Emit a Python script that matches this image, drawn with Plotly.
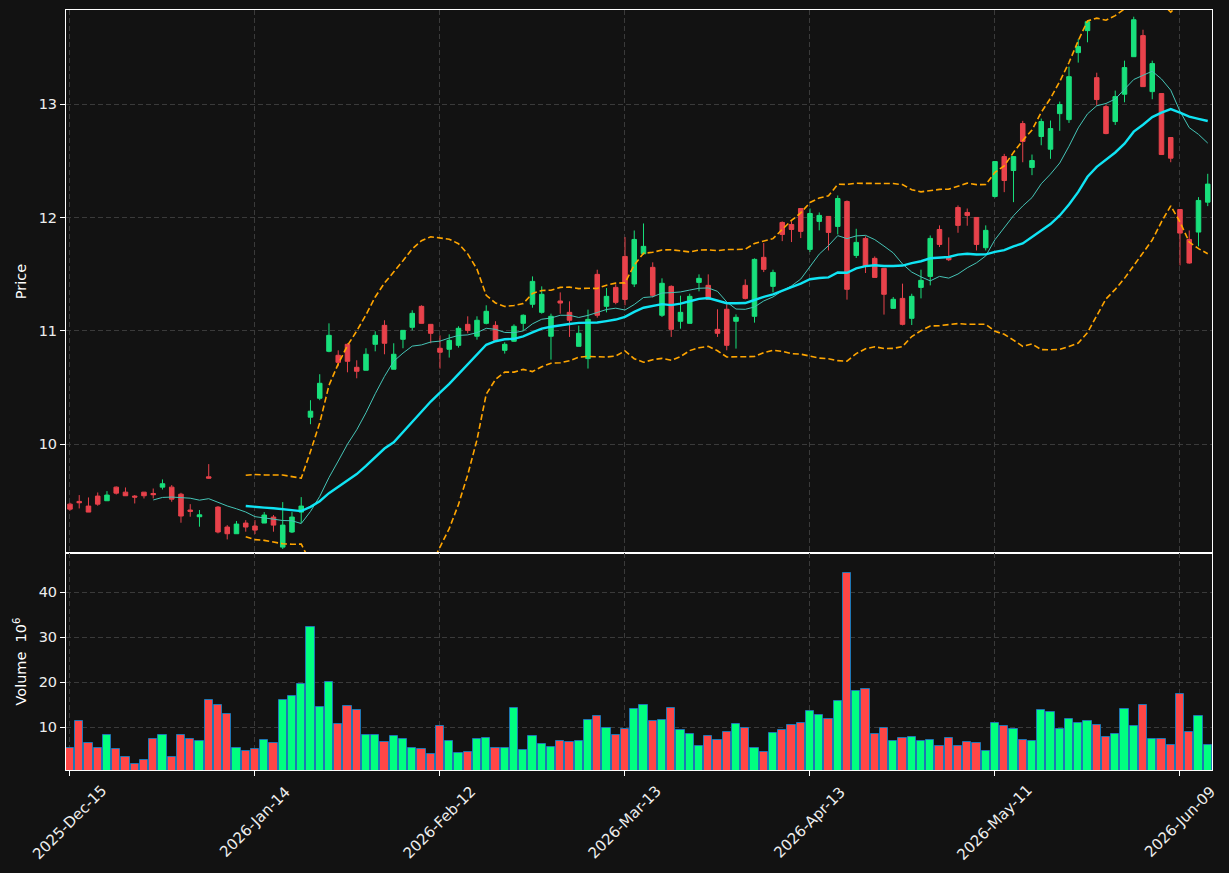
import pandas as pd
import numpy as np
import plotly.graph_objects as go

# ---------------- data ----------------
holidays = ["2025-12-25", "2026-01-01", "2026-01-19", "2026-02-16", "2026-04-03", "2026-05-25"]
dates = pd.bdate_range("2025-12-15", "2026-06-12", freq="C", holidays=holidays)

opens = [9.471, 9.495, 9.454, 9.542, 9.501, 9.621, 9.577, 9.542, 9.577, 9.565,
         9.621, 9.621, 9.559, 9.419, 9.360, 9.712, 9.445, 9.269, 9.210, 9.304,
         9.278, 9.304, 9.357, 9.092, 9.225, 9.401, 10.238, 10.405, 10.819, 10.784,
         10.881, 10.678, 10.652, 10.881, 11.048, 10.661, 10.925, 11.031, 11.216, 11.057,
         10.846, 10.837, 10.872, 11.057, 10.952, 11.066, 11.048, 10.828, 10.908, 11.066,
         11.234, 11.163, 10.952, 11.263, 11.163, 10.863, 10.755, 11.498, 11.216, 11.383,
         11.656, 11.413, 11.680, 11.560, 11.137, 11.392, 11.084, 11.066, 11.427, 11.401,
         11.013, 11.190, 11.084, 11.401, 11.128, 11.648, 11.392, 11.956, 11.938, 12.079,
         11.718, 11.965, 12.009, 11.921, 12.141, 11.665, 11.815, 11.639, 11.551, 11.198,
         11.286, 11.110, 11.383, 11.480, 11.894, 11.645, 12.088, 12.044, 12.000, 11.733,
         12.185, 12.537, 12.414, 12.828, 12.441, 12.714, 12.602, 12.916, 12.863, 13.454,
         13.648, 13.233, 12.978, 12.846, 13.087, 13.418, 13.604, 13.110, 13.093, 12.705,
         12.070, 11.806, 11.871, 12.135]
highs = [9.483, 9.551, 9.530, 9.574, 9.586, 9.627, 9.618, 9.551, 9.577, 9.609,
         9.689, 9.639, 9.571, 9.471, 9.419, 9.824, 9.454, 9.286, 9.322, 9.330,
         9.330, 9.401, 9.375, 9.489, 9.401, 9.533, 10.388, 10.617, 11.066, 10.828,
         10.890, 10.740, 10.846, 10.996, 11.093, 10.890, 11.004, 11.181, 11.225, 11.057,
         10.960, 10.969, 11.040, 11.128, 11.128, 11.225, 11.084, 10.899, 11.057, 11.145,
         11.480, 11.392, 11.151, 11.339, 11.260, 11.046, 11.187, 11.539, 11.377, 11.410,
         11.827, 11.885, 11.947, 11.604, 11.463, 11.401, 11.310, 11.327, 11.498, 11.498,
         11.190, 11.234, 11.145, 11.454, 11.639, 11.774, 11.539, 11.965, 11.965, 12.079,
         12.079, 12.044, 12.009, 12.194, 12.150, 11.900, 11.833, 11.656, 11.551, 11.298,
         11.416, 11.327, 11.539, 11.841, 11.930, 11.824, 12.106, 12.079, 12.000, 11.930,
         12.493, 12.561, 12.537, 12.852, 12.555, 12.872, 12.855, 13.022, 13.330, 13.574,
         13.736, 13.277, 12.996, 13.119, 13.383, 13.771, 13.656, 13.383, 13.093, 12.705,
         12.070, 11.885, 12.179, 12.385]
lows = [9.413, 9.433, 9.401, 9.457, 9.501, 9.556, 9.545, 9.477, 9.521, 9.521,
        9.600, 9.492, 9.307, 9.360, 9.272, 9.695, 9.213, 9.160, 9.210, 9.228,
        9.207, 9.304, 9.228, 9.075, 9.216, 9.304, 10.176, 10.388, 10.811, 10.687,
        10.634, 10.581, 10.652, 10.819, 10.793, 10.661, 10.846, 11.004, 11.066, 10.890,
        10.667, 10.764, 10.852, 10.978, 10.922, 11.057, 10.910, 10.799, 10.902, 11.004,
        11.204, 11.151, 10.746, 11.151, 10.946, 10.863, 10.667, 11.116, 11.163, 11.234,
        11.225, 11.386, 11.671, 11.295, 11.122, 10.946, 11.019, 11.066, 11.348, 11.277,
        10.946, 10.828, 10.843, 11.277, 11.072, 11.518, 11.339, 11.791, 11.783, 11.818,
        11.695, 11.886, 11.709, 11.850, 11.275, 11.642, 11.510, 11.471, 11.143, 11.198,
        11.048, 11.051, 11.286, 11.401, 11.739, 11.615, 11.865, 11.927, 11.709, 11.709,
        12.176, 12.223, 12.135, 12.487, 12.373, 12.637, 12.517, 12.764, 12.834, 13.366,
        13.545, 12.987, 12.734, 12.816, 13.016, 13.418, 13.154, 13.043, 12.555, 12.487,
        11.577, 11.592, 11.745, 12.100]
closes = [9.427, 9.483, 9.401, 9.471, 9.551, 9.568, 9.545, 9.533, 9.545, 9.554,
          9.651, 9.515, 9.366, 9.407, 9.377, 9.700, 9.225, 9.210, 9.295, 9.269,
          9.242, 9.375, 9.286, 9.286, 9.357, 9.454, 10.291, 10.537, 10.960, 10.722,
          10.731, 10.643, 10.793, 10.960, 10.890, 10.793, 11.004, 11.154, 11.066, 10.978,
          10.811, 10.916, 11.022, 11.004, 11.093, 11.172, 10.916, 10.881, 11.040, 11.137,
          11.436, 11.322, 11.128, 11.245, 11.093, 10.978, 11.101, 11.137, 11.304, 11.251,
          11.277, 11.806, 11.745, 11.313, 11.419, 11.013, 11.163, 11.304, 11.463, 11.277,
          10.978, 10.872, 11.119, 11.286, 11.630, 11.542, 11.515, 11.850, 11.894, 11.877,
          12.035, 12.018, 11.868, 12.167, 11.366, 11.780, 11.568, 11.471, 11.322, 11.278,
          11.057, 11.304, 11.445, 11.815, 11.762, 11.627, 11.930, 12.018, 11.762, 11.886,
          12.493, 12.326, 12.537, 12.670, 12.502, 12.846, 12.784, 12.996, 13.242, 13.507,
          13.727, 13.040, 12.740, 13.066, 13.322, 13.744, 13.154, 13.357, 12.555, 12.523,
          11.862, 11.598, 12.150, 12.294]
volumes = [5.26, 11.26, 6.44, 5.26, 8.15, 5.04, 3.26, 1.7, 2.6, 7.26,
           8.15, 3.26, 8.15, 7.26, 6.8, 15.9, 14.8, 12.8, 5.26, 4.6,
           5.04, 7.04, 6.44, 15.9, 16.8, 19.5, 32.2, 14.4, 20.1, 10.6,
           14.6, 13.7, 8.15, 8.15, 6.6, 7.9, 7.26, 5.26, 5.04, 3.93,
           10.15, 6.8, 4.15, 4.37, 7.26, 7.5, 5.26, 5.26, 14.15, 4.8,
           7.9, 6.15, 5.5, 6.8, 6.6, 6.8, 11.5, 12.4, 9.7, 8.15,
           9.5, 13.9, 14.8, 11.26, 11.5, 14.15, 9.26, 8.4, 5.7, 7.9,
           7.04, 8.8, 10.6, 9.7, 5.26, 4.37, 8.6, 9.26, 10.37, 10.8,
           13.5, 12.6, 11.7, 15.7, 44.15, 17.9, 18.4, 8.4, 9.7, 6.8,
           7.5, 7.7, 6.8, 7.04, 5.7, 7.5, 5.7, 6.6, 6.4, 4.6,
           10.8, 10.15, 9.5, 7.04, 6.8, 13.7, 13.26, 9.5, 11.7, 10.8,
           11.26, 10.37, 7.7, 8.4, 13.9, 10.15, 14.8, 7.26, 7.26, 5.9,
           17.26, 8.8, 12.4, 5.9]

price_ticks = [10, 11, 12, 13]
volume_ticks = [10, 20, 30, 40]
date_tick_idx = [0, 20, 40, 60, 80, 100, 120]

# ---------------- derived ----------------
n = len(closes)
x = list(range(n))
close_s = pd.Series(closes)
ma10 = close_s.rolling(10).mean()
ma20 = close_s.rolling(20).mean()
sd20 = close_s.rolling(20).std()
bb_up = ma20 + 2 * sd20
bb_lo = ma20 - 2 * sd20
tick_text = [dates[i].strftime("%Y-%b-%d") for i in date_tick_idx]

UP_C = "#18e07c"
DN_C = "#e8424b"
VOL_UP = "#00ff80"
VOL_DN = "#ff4646"
vol_colors = [VOL_UP if c >= o else VOL_DN for o, c in zip(opens, closes)]

BG = "#121212"
GRID = "#3a3a3a"
FONT = "DejaVu Sans"
TICK_FONT = dict(family=FONT, size=14.5, color="#eeeeee")
DATE_FONT = dict(family=FONT, size=15, color="#eeeeee")

fig = go.Figure()

fig.add_trace(go.Scatter(x=x, y=bb_up, mode="lines", xaxis="x", yaxis="y",
                         line=dict(color="#ffa500", width=1.6, dash="6px,3px"), hoverinfo="skip"))
fig.add_trace(go.Scatter(x=x, y=bb_lo, mode="lines", xaxis="x", yaxis="y",
                         line=dict(color="#ffa500", width=1.6, dash="6px,3px"), hoverinfo="skip"))
fig.add_trace(go.Scatter(x=x, y=ma10, mode="lines", xaxis="x", yaxis="y",
                         line=dict(color="#45c4b6", width=1), hoverinfo="skip"))
fig.add_trace(go.Scatter(x=x, y=ma20, mode="lines", xaxis="x", yaxis="y",
                         line=dict(color="#10e4f4", width=2.4), hoverinfo="skip"))

fig.add_trace(go.Candlestick(
    x=x, open=opens, high=highs, low=lows, close=closes, xaxis="x", yaxis="y",
    increasing=dict(line=dict(color=UP_C, width=1), fillcolor=UP_C),
    decreasing=dict(line=dict(color=DN_C, width=1), fillcolor=DN_C),
    whiskerwidth=0,
))

fig.add_trace(go.Bar(x=x, y=volumes, xaxis="x2", yaxis="y2", width=0.9,
                     marker=dict(color=vol_colors, line=dict(color="#1f77b4", width=1))))

axis_common = dict(
    showline=True, linecolor="white", linewidth=1, mirror=True,
    showgrid=True, gridcolor=GRID, gridwidth=1, griddash="5px,3px",
    zeroline=False, tickcolor="white", ticklen=5, tickwidth=1,
    tickfont=TICK_FONT, automargin=False,
)

split = 217 / 760

# rotated date labels centred on their ticks (as in the reference)
annotations = [
    dict(x=i, y=0, xref="x2", yref="paper", text=t, showarrow=False,
         textangle=-45, xanchor="center", yanchor="middle", yshift=-52,
         font=DATE_FONT)
    for i, t in zip(date_tick_idx, tick_text)
]

fig.update_layout(
    width=1229, height=873,
    margin=dict(l=66, r=17, t=10, b=103, autoexpand=False),
    paper_bgcolor=BG, plot_bgcolor=BG,
    showlegend=False,
    font=dict(family=FONT, color="white"),
    bargap=0,
    annotations=annotations,
    xaxis=dict(domain=[0, 1], anchor="y", range=[-0.43, 123.46],
               tickmode="array", tickvals=date_tick_idx, showticklabels=False, ticks="",
               rangeslider=dict(visible=False), **axis_common),
    xaxis2=dict(domain=[0, 1], anchor="y2", range=[-0.43, 123.46], matches="x",
                tickmode="array", tickvals=date_tick_idx, ticktext=tick_text,
                showticklabels=False, ticks="outside", **axis_common),
    yaxis=dict(domain=[split, 1], anchor="x", range=[9.04, 13.83],
               tickmode="array", tickvals=price_ticks, ticks="outside",
               title=dict(text="Price", font=dict(family=FONT, size=14.5, color="white"), standoff=8),
               **axis_common),
    yaxis2=dict(domain=[0, split], anchor="x2", range=[0.44, 48.7],
                tickmode="array", tickvals=volume_ticks, ticks="outside",
                title=dict(text="Volume  10<sup>6</sup>", font=dict(family=FONT, size=14.5, color="white"), standoff=8),
                **axis_common),
)

fig.write_html("out.html")
